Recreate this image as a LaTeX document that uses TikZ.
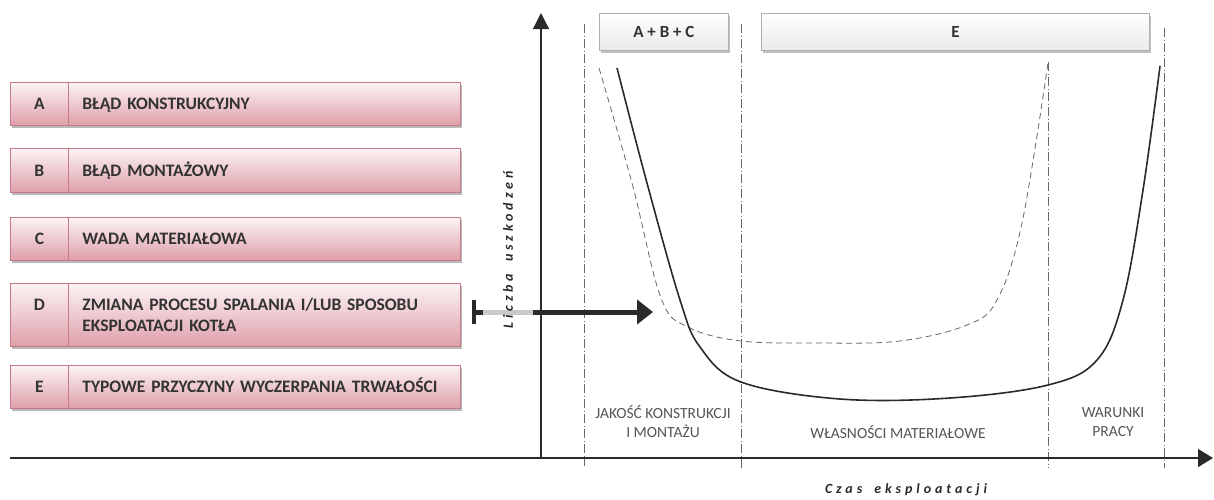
\documentclass[tikz,border=0pt]{standalone}
\usepackage{fontspec}
\setmainfont{Carlito}
\newfontfamily\spacedfont[LetterSpace=28]{Carlito}
\usetikzlibrary{shadows,arrows.meta}
\newcommand{\rowstrut}{\vphantom{ŚĄ}}
\definecolor{pinkTop}{HTML}{FCF3F5}
\definecolor{pinkBot}{HTML}{DF9FAA}
\definecolor{pinkLine}{HTML}{C47A87}
\definecolor{txt}{HTML}{333333}
\definecolor{lbl}{HTML}{555555}
\definecolor{boxLine}{HTML}{B0B0B0}
\definecolor{boxBot}{HTML}{EAEAEA}
\definecolor{axisCol}{HTML}{2A2A2A}
\definecolor{sepCol}{HTML}{666666}
\tikzset{
  cell/.style={draw=pinkLine, line width=0.8pt, top color=pinkTop, bottom color=pinkBot,
    drop shadow={shadow xshift=2pt, shadow yshift=-3pt, fill=black!50, opacity=0.55},
    inner sep=0pt, anchor=north west},
  textcell/.style={cell, text width=364pt, align=left, inner xsep=14pt,
    font=\bfseries\fontsize{17.5}{21}\selectfont, text=txt,
    execute at begin node=\rowstrut, execute at end node=\rowstrut},
  lettertext/.style={font=\bfseries\fontsize{17.5}{21}\selectfont, text=txt, inner sep=0pt},
  topbox/.style={draw=boxLine, line width=0.8pt, top color=white, bottom color=boxBot,
    drop shadow={shadow xshift=2pt, shadow yshift=-3pt, fill=black!45, opacity=0.55},
    inner sep=0pt, anchor=north west, minimum height=37pt,
    font=\bfseries\fontsize{17}{20}\selectfont, text=txt},
  axisline/.style={draw=axisCol, line width=1.3pt},
  sepline/.style={draw=sepCol, line width=0.7pt, dash pattern=on 9pt off 2.5pt on 1pt off 2.5pt},
  zonelabel/.style={align=center, text=lbl, font=\fontsize{15.5}{19}\selectfont},
  axislabel/.style={text=axisCol, font=\spacedfont\bfseries\itshape\fontsize{14}{16}\selectfont},
}
\begin{document}
\begin{tikzpicture}[x=1pt,y=-1pt]
\useasboundingbox (0,0) rectangle (1214,499);

% left list
\node[cell, minimum width=58pt, minimum height=43pt] (lA) at (10,82) {};
\node[textcell, minimum height=43pt] (tA) at (68,82) {BŁĄD KONSTRUKCYJNY};
\node[lettertext] at (lA.center) {\rowstrut A};
\node[cell, minimum width=58pt, minimum height=44pt] (lB) at (10,148) {};
\node[textcell, minimum height=44pt] (tB) at (68,148) {BŁĄD MONTAŻOWY};
\node[lettertext] at (lB.center) {\rowstrut B};
\node[cell, minimum width=58pt, minimum height=43pt] (lC) at (10,217) {};
\node[textcell, minimum height=43pt] (tC) at (68,217) {WADA MATERIAŁOWA};
\node[lettertext] at (lC.center) {\rowstrut C};
\node[cell, minimum width=58pt, minimum height=63pt] (lD) at (10,283) {};
\node[textcell, minimum height=63pt] (tD) at (68,283) {ZMIANA PROCESU SPALANIA I/LUB SPOSOBU\\EKSPLOATACJI KOTŁA};
\node[lettertext] at ([yshift=10.5pt]lD.center) {\rowstrut D};
\node[cell, minimum width=58pt, minimum height=43pt] (lE) at (10,365) {};
\node[textcell, minimum height=43pt] (tE) at (68,365) {TYPOWE PRZYCZYNY WYCZERPANIA TRWAŁOŚCI};
\node[lettertext] at (lE.center) {\rowstrut E};

% separators
\coordinate (s1t) at (584,24);  \coordinate (s1b) at (584,466);
\coordinate (s2t) at (741,24);  \coordinate (s2b) at (741,468);
\coordinate (s3t) at (1048,62); \coordinate (s3b) at (1048,468);
\coordinate (s4t) at (1164,28); \coordinate (s4b) at (1164,468);
\draw[sepline] (s1t) -- (s1b);
\draw[sepline] (s2t) -- (s2b);
\draw[sepline] (s3t) -- (s3b);
\draw[sepline] (s4t) -- (s4b);

% top boxes
\node[topbox, minimum width=129pt] (abc) at (599,13) {A + B + C};
\node[topbox, minimum width=388pt] (ebox) at (761,13) {E};

% axes
\coordinate (xl) at (10,458);
\coordinate (xr) at (1213,458);
\coordinate (yb) at (541,458);
\coordinate (yt) at (541,13);
\draw[axisline, -{Triangle[length=15pt,width=18pt]}] (xl) -- (xr);
\draw[axisline, -{Triangle[length=16pt,width=16pt]}] (yb) -- (yt);

% D arrow
\coordinate (dS) at (472,312);
\coordinate (dE) at (653,312);
\draw[draw=axisCol, line width=5pt, {Bar[width=24pt,line width=4pt]}-{Triangle[length=16pt,width=24pt]}] (dS) -- (dE);
\fill[white, opacity=0.75] (483,140) rectangle (533,380);
\node[axislabel, rotate=90] (ylab) at (508,250) {Liczba \hspace{5pt}uszkodzeń};

% curves
\draw[sepCol, line width=0.8pt, dash pattern=on 6pt off 4pt]
  plot[smooth, tension=0.6] coordinates {(599,68) (632,183) (661,298) (688,327) (741,341) (820,343) (900,341) (967,325) (997,300) (1022,223) (1048,63)};
\draw[axisCol, line width=1.6pt]
  plot[smooth, tension=0.6] coordinates {(617,68) (647,183) (680,300) (700,347) (741,382) (840,399) (950,398) (1048,385) (1097,360) (1123,300) (1143,190) (1160,66)};

% zone labels
\node[zonelabel] (z1) at (663,422) {JAKOŚĆ KONSTRUKCJI\\I MONTAŻU};
\node[zonelabel] (z2) at (898,432) {WŁASNOŚCI MATERIAŁOWE};
\node[zonelabel] (z3) at (1113,422) {WARUNKI\\PRACY};
\node[axislabel] (xlab) at (906,490) {Czas \hspace{5pt}eksploatacji};
\end{tikzpicture}
\end{document}
